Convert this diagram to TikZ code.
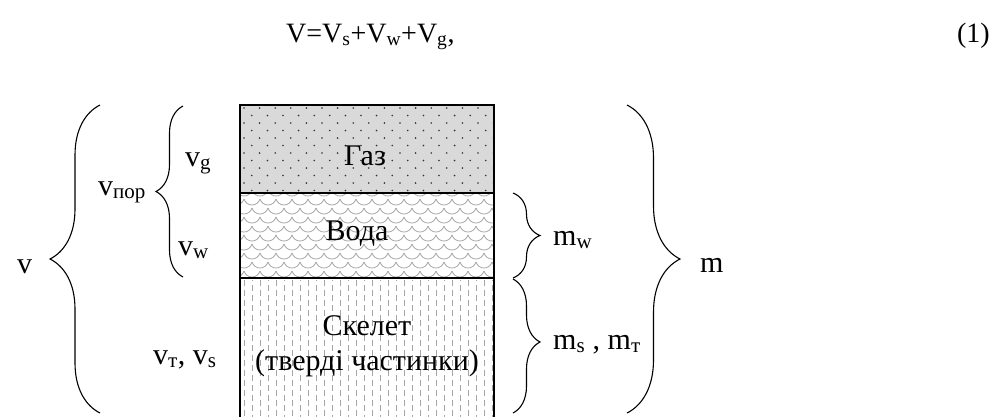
\documentclass[tikz,border=0pt]{standalone}
\usepackage{fontspec}
\setmainfont{Liberation Serif}
\usetikzlibrary{decorations.pathreplacing}
\tikzset{
  lbl/.style={inner sep=0pt, font=\fontsize{30}{34}\selectfont},
  eqlbl/.style={inner sep=0pt, font=\fontsize{28}{32}\selectfont},
  brc/.style={decorate, decoration={brace, amplitude=#1}, line width=1.1pt},
  brcat/.style 2 args={decorate, decoration={brace, amplitude=#1, aspect=#2}, line width=1.1pt},
  boxline/.style={line width=1.3pt},
}
\newcommand{\sub}[1]{\textsubscript{#1}}
\begin{document}
\begin{tikzpicture}[x=1pt,y=-1pt]
\useasboundingbox (0,0) rectangle (993,416);
% ---- layers of the box ----
\fill[gray!30] (240,105) rectangle (494,193);
\begin{scope}
  \clip (240,105) rectangle (494,193);
  \foreach \r in {0,...,11}{
    \pgfmathsetmacro{\yy}{108+\r*7.5}
    \pgfmathsetmacro{\off}{mod(\r,2)*7.8}
    \foreach \k in {0,...,16}{
      \fill[black!80] (244+\off+\k*15.6,\yy) circle (0.9);
    }
  }
\end{scope}
\begin{scope}
  \clip (240,193) rectangle (494,278);
  \foreach \r in {0,...,10}{
    \pgfmathsetmacro{\yy}{190+\r*9}
    \pgfmathsetmacro{\off}{mod(\r,2)*8}
    \foreach \k in {-1,...,16}{
      \draw[gray!70, line width=0.8pt] (236+\off+\k*16,\yy) to[out=-70,in=180] (244+\off+\k*16,\yy+6) to[out=0,in=-110] (252+\off+\k*16,\yy);
    }
  }
\end{scope}
\begin{scope}
  \clip (240,278) rectangle (494,420);
  \foreach \k in {0,...,31}{
    \pgfmathsetmacro{\ph}{mod(\k,2)*5}
    \draw[gray!70, line width=1pt, dash pattern=on 6pt off 4pt, dash phase=\ph pt] (244+\k*8,280) -- (244+\k*8,420);
  }
\end{scope}
\draw[boxline] (240,420) -- (240,105) -- (494,105) -- (494,420);
\draw[boxline] (240,193) -- (494,193);
\draw[boxline] (240,278) -- (494,278);
% ---- texts in box ----
\node[lbl, anchor=base] (gas) at (365,165) {Газ};
\node[lbl, anchor=base] (water) at (357,240) {Вода};
\node[lbl, anchor=base] (skel) at (367,335) {Скелет};
\node[lbl, anchor=base] (skel2) at (367,370) {(тверді частинки)};
% ---- equation ----
\node[eqlbl, anchor=base west] (eq) at (286,42) {V=V\sub{s}+V\sub{w}+V\sub{g},};
\node[eqlbl, anchor=base east] (eqn) at (990,42) {(1)};
% ---- brace end points ----
\coordinate (Lb) at (100,413);
\coordinate (Lt) at (100,105);
\coordinate (lb) at (183,277);
\coordinate (lt) at (183,106);
\coordinate (wt) at (513,193);
\coordinate (wb) at (513,278);
\coordinate (st) at (513,279);
\coordinate (sb) at (513,413);
\coordinate (Rt) at (627,105);
\coordinate (Rb) at (627,413);
\draw[brc=50] (Lb) -- (Lt);
\draw[brcat={27}{0.5}] (lb) -- (lt);
\draw[brc=27] (wt) -- (wb);
\draw[brcat={27}{0.47}] (st) -- (sb);
\draw[brc=53] (Rt) -- (Rb);
% ---- labels ----
\node[lbl, anchor=base west] (v) at (17,273) {v};
\node[lbl, anchor=base west] (vpor) at (98,195) {v\sub{пор}};
\node[lbl, anchor=base west] (vg) at (185,166) {v\sub{g}};
\node[lbl, anchor=base west] (vw) at (178,255) {v\sub{w}};
\node[lbl, anchor=base west] (vs) at (153,364) {v\sub{т}, v\sub{s}};
\node[lbl, anchor=base west] (mw) at (553,245) {m\sub{w}};
\node[lbl, anchor=base west] (ms) at (553,349) {m\sub{s} , m\sub{т}};
\node[lbl, anchor=base west] (m) at (700,272) {m};
\end{tikzpicture}
\end{document}
